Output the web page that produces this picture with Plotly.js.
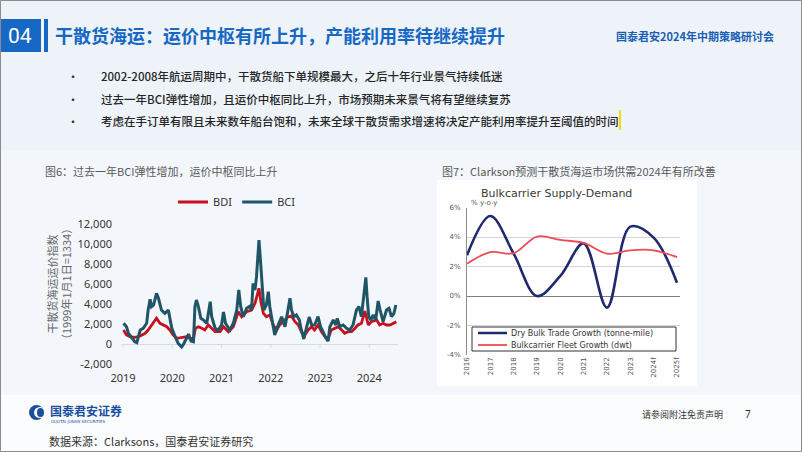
<!DOCTYPE html>
<html><head><meta charset="utf-8">
<script src="https://cdn.plot.ly/plotly-3.0.1.min.js"></script>
<style>html,body{margin:0;padding:0;background:#f2f6fa}#chart{width:802px;height:452px}</style>
</head><body><div id="chart"></div>
<script>
// ---------- Left chart data (BDI / BCI) ----------
const bciDates = [2019.01,2019.07,2019.11,2019.18,2019.24,2019.28,2019.31,2019.35,2019.41,2019.48,2019.51,2019.55,2019.58,2019.62,2019.68,2019.72,2019.78,2019.85,2019.92,2019.95,2019.99,2020.06,2020.12,2020.19,2020.22,2020.29,2020.33,2020.38,2020.43,2020.46,2020.49,2020.53,2020.58,2020.63,2020.70,2020.77,2020.80,2020.87,2020.93,2021.00,2021.04,2021.08,2021.17,2021.24,2021.31,2021.35,2021.39,2021.44,2021.51,2021.58,2021.61,2021.64,2021.68,2021.71,2021.74,2021.76,2021.79,2021.83,2021.86,2021.91,2021.95,2021.98,2022.02,2022.08,2022.15,2022.22,2022.29,2022.35,2022.39,2022.42,2022.47,2022.52,2022.58,2022.62,2022.67,2022.73,2022.78,2022.83,2022.89,2022.96,2023.01,2023.06,2023.12,2023.165,2023.20,2023.27,2023.32,2023.35,2023.40,2023.47,2023.54,2023.60,2023.67,2023.74,2023.79,2023.84,2023.89,2023.93,2023.96,2023.99,2024.03,2024.08,2024.13,2024.18,2024.22,2024.28,2024.35,2024.40,2024.45,2024.50,2024.54];
const bciValues = [2070,1730,1070,570,230,130,730,1400,1570,2070,3400,4470,3730,3900,5070,4570,3400,3070,3400,2400,1570,730,70,-300,-100,570,1000,300,230,3730,4400,3730,2570,2400,2070,4230,2730,1570,1400,1900,3200,2070,1400,2070,3400,5400,3730,2730,3570,3800,3400,6070,5400,6730,9000,10400,8400,5730,3400,3900,5230,3730,2400,900,1900,2730,1730,3570,4570,3400,2730,2900,2400,1400,500,1730,2700,1900,1900,2730,1730,1230,570,300,1730,2400,1900,2570,1730,1900,1570,1400,1900,3400,3730,2730,4730,6670,4400,2730,2400,2900,2400,4300,3400,2230,3400,3570,2730,3070,3900];
const bdiDates = [2019.01,2019.07,2019.14,2019.24,2019.35,2019.45,2019.51,2019.58,2019.65,2019.68,2019.75,2019.82,2019.89,2019.95,2020.02,2020.09,2020.19,2020.29,2020.36,2020.43,2020.47,2020.53,2020.60,2020.66,2020.73,2020.80,2020.87,2020.97,2021.04,2021.14,2021.24,2021.34,2021.41,2021.51,2021.61,2021.68,2021.76,2021.80,2021.85,2021.91,2021.98,2022.05,2022.12,2022.18,2022.25,2022.35,2022.42,2022.49,2022.56,2022.62,2022.69,2022.76,2022.83,2022.89,2022.96,2023.03,2023.10,2023.165,2023.23,2023.30,2023.37,2023.44,2023.50,2023.57,2023.64,2023.71,2023.77,2023.84,2023.91,2023.98,2024.04,2024.15,2024.21,2024.28,2024.35,2024.42,2024.48,2024.55];
const bdiValues = [1400,900,730,670,800,1070,1400,1900,2400,2570,2070,1900,1730,1400,900,570,670,730,570,570,1570,1730,1570,1400,1900,1570,1230,1230,1730,1230,1730,3230,2730,3230,3400,4070,5570,4200,3070,2730,2900,1900,1400,1900,2230,2700,2800,2230,1900,1230,900,1400,1730,1400,1900,1230,730,570,1400,1570,1730,1400,1070,1230,1230,1570,1900,2070,3300,1900,2230,2400,1900,2070,1900,1900,2070,2230];
const leftXTickVals = [2019,2020,2021,2022,2023,2024];
const leftXTickText = ['2019','2020','2021','2022','2023','2024'];
const leftYTickVals = [-2000,0,2000,4000,6000,8000,10000,12000];
const leftYTickText = ['-2,000','0','2,000','4,000','6,000','8,000','10,000','12,000'];

// ---------- Right chart data (Clarkson supply-demand) ----------
const years = ['2016','2017','2018','2019','2020','2021','2022','2023','2024f','2025f'];
const tradeGrowth = [2.76,5.42,2.87,0.0,1.36,3.57,-0.79,4.70,3.96,0.90];
const fleetGrowth = [2.19,2.98,2.90,4.03,3.80,3.60,2.87,3.10,3.10,2.64];
const rightYTickVals = [-4,-2,0,2,4,6];
const rightYTickText = ['-4%','-2%','0%','2%','4%','6%'];

// ---------- helpers: page pixels -> paper coords ----------
const W = 802, H = 452;
const X = px => px / W;
const Y = py => 1 - py / H;
const CJK = '"Noto Sans CJK SC", "Noto Sans", sans-serif';

function rect(x0, y0, x1, y1, fill, line, layer) {
  return {type:'rect', xref:'paper', yref:'paper', x0:X(x0), x1:X(x1), y0:Y(y1), y1:Y(y0),
    fillcolor: fill || 'rgba(0,0,0,0)', line: line || {width:0}, layer: layer || 'below'};
}
function seg(x0, y0, x1, y1, color, width) {
  return {type:'line', xref:'paper', yref:'paper', x0:X(x0), x1:X(x1), y0:Y(y0), y1:Y(y1),
    line:{color:color, width:width}, layer:'above'};
}
function txt(text, x, y, opts) {
  const o = opts || {};
  return Object.assign({text:text, xref:'paper', yref:'paper', x:X(x), y:Y(y), showarrow:false,
    xanchor:o.xanchor || 'left', yanchor:o.yanchor || 'middle',
    font:{family:o.family || CJK, size:o.size || 12, color:o.color || '#333', weight:o.weight || 400}},
    o.extra || {});
}

const shapes = [
  rect(0, 0, 802, 150, '#edf3f9'),
  rect(0, 150, 802, 395, '#f3f7fb'),
  rect(0, 395, 802, 452, '#fbfcfd'),
  rect(0, 19, 41, 52, '#1668c4'),
  rect(44, 19, 48, 52, '#1668c4'),
  rect(437, 180, 697, 386, '#ffffff'),
  // right chart legend box & samples
  rect(472, 327, 676, 351, '#ffffff', {color:'#333', width:1}, 'above'),
  seg(478, 333, 507, 333, '#1f2a6e', 2.5),
  seg(478, 345, 507, 345, '#ef4a55', 1.8),
  // yellow cursor
  rect(619, 110, 621, 130, '#ffd700', null, 'above'),
  // logo
  {type:'circle', xref:'paper', yref:'paper', x0:X(29), x1:X(44), y0:Y(420), y1:Y(405), fillcolor:'#1a4fa0', line:{width:0}, layer:'above'},
  {type:'circle', xref:'paper', yref:'paper', x0:X(34), x1:X(46), y0:Y(418), y1:Y(407), fillcolor:'#fbfcfd', line:{width:0}, layer:'above'},
  {type:'circle', xref:'paper', yref:'paper', x0:X(37), x1:X(44), y0:Y(417), y1:Y(408), fillcolor:'#1a4fa0', line:{width:0}, layer:'above'},
  // frame
  rect(0.5, 0.5, 801.5, 451.5, null, {color:'#8c8c8c', width:1}, 'above')
];
// year tick marks on the left chart zero line
leftXTickVals.forEach(v => shapes.push({type:'line', xref:'x', yref:'y', x0:v, x1:v, y0:0, y1:-400,
  line:{color:'#d9d9d9', width:1}, layer:'below'}));

const bullets = [
  '2002-2008年航运周期中，干散货船下单规模最大，之后十年行业景气持续低迷',
  '过去一年BCI弹性增加，且运价中枢同比上升，市场预期未来景气将有望继续复苏',
  '考虑在手订单有限且未来数年船台饱和，未来全球干散货需求增速将决定产能利用率提升至阈值的时间'
];
const bulletY = [76, 99, 121];

const annotations = [
  txt('04', 20, 36, {xanchor:'center', family:'Roboto, sans-serif', size:21, color:'#ffffff'}),
  txt('干散货海运：运价中枢有所上升，产能利用率待继续提升', 53, 35, {size:18, color:'#1668c4', weight:700}),
  txt('国泰君安2024年中期策略研讨会', 776, 36, {xanchor:'right', size:11, color:'#1a5fb4', weight:700}),
  txt('图6：过去一年BCI弹性增加，运价中枢同比上升', 43, 171, {size:11, color:'#595959'}),
  txt('图7：Clarkson预测干散货海运市场供需2024年有所改善', 440, 171, {size:11, color:'#595959'}),
  txt('干散货海运运价指数<br>（1999年1月1日=1334）', 59, 284, {xanchor:'center', size:11, color:'#666', extra:{textangle:-90}}),
  txt('Bulkcarrier Supply-Demand', 556, 193, {xanchor:'center', family:'"DejaVu Sans", sans-serif', size:11, color:'#3a3a3a'}),
  txt('% y-o-y', 469, 203, {family:'"DejaVu Sans", sans-serif', size:7, color:'#555'}),
  txt('Dry Bulk Trade Growth (tonne-mile)', 509, 333, {family:'"DejaVu Sans", sans-serif', size:8, color:'#333'}),
  txt('Bulkcarrier Fleet Growth (dwt)', 509, 345, {family:'"DejaVu Sans", sans-serif', size:8, color:'#333'}),
  txt('国泰君安证券', 48, 410, {size:12, color:'#1a4fa0', weight:700}),
  txt('GUOTAI JUNAN SECURITIES', 49, 421, {family:'"DejaVu Sans", sans-serif', size:4, color:'#1a4fa0'}),
  txt('请参阅附注免责声明', 640, 414, {size:9, color:'#333'}),
  txt('7', 748, 414, {xanchor:'center', family:'"Noto Sans", sans-serif', size:10, color:'#333'}),
  txt('数据来源：Clarksons，国泰君安证券研究', 47, 441, {size:11, color:'#333'})
];
bullets.forEach((b, i) => {
  annotations.push(txt('•', 73, bulletY[i], {xanchor:'center', size:12, color:'#333'}));
  annotations.push(txt(b, 99, bulletY[i], {size:11.5, color:'#262626', weight:500}));
});

const traces = [
  {x:bdiDates, y:bdiValues, name:'BDI', type:'scatter', mode:'lines', xaxis:'x', yaxis:'y',
   line:{color:'#c8101e', width:2.8}},
  {x:bciDates, y:bciValues, name:'BCI', type:'scatter', mode:'lines', xaxis:'x', yaxis:'y',
   line:{color:'#1f5566', width:3}},
  {x:years, y:tradeGrowth, name:'Dry Bulk Trade Growth (tonne-mile)', type:'scatter', mode:'lines',
   xaxis:'x2', yaxis:'y2', showlegend:false, line:{color:'#1f2a6e', width:2.6, shape:'spline', smoothing:1}},
  {x:years, y:fleetGrowth, name:'Bulkcarrier Fleet Growth (dwt)', type:'scatter', mode:'lines',
   xaxis:'x2', yaxis:'y2', showlegend:false, line:{color:'#ef4a55', width:1.8, shape:'spline', smoothing:1}}
];

const layout = {
  width:W, height:H, margin:{l:0, r:0, t:0, b:0},
  paper_bgcolor:'#f2f6fa', plot_bgcolor:'rgba(0,0,0,0)',
  showlegend:true,
  legend:{orientation:'h', x:X(173), xanchor:'left', y:Y(202), yanchor:'middle', bgcolor:'rgba(0,0,0,0)',
    font:{family:'"Noto Sans", sans-serif', size:11, color:'#333'}, itemwidth:30},
  xaxis:{domain:[X(121), X(398)], range:[2018.959, 2024.583], tickvals:leftXTickVals, ticktext:leftXTickText,
    showgrid:false, zeroline:false, showline:false, ticks:'', ticklabelstandoff:6,
    tickfont:{family:'"Noto Sans", sans-serif', size:11, color:'#333'}, fixedrange:true},
  yaxis:{domain:[Y(364), Y(224)], range:[-2000, 12000], tickvals:leftYTickVals, ticktext:leftYTickText,
    showgrid:false, zeroline:true, zerolinecolor:'#d9d9d9', zerolinewidth:1, showline:false, ticks:'',
    ticklabelstandoff:8, tickfont:{family:'"Noto Sans", sans-serif', size:11, color:'#333'}},
  xaxis2:{domain:[X(467), X(680)], range:[0, 9.13], anchor:'y2', type:'category',
    showgrid:false, zeroline:false, showline:false, ticks:'', tickangle:-90,
    tickfont:{family:'"DejaVu Sans", sans-serif', size:7, color:'#555'}},
  yaxis2:{domain:[Y(355), Y(207.5)], range:[-4, 6], anchor:'x2', tickvals:rightYTickVals, ticktext:rightYTickText,
    showgrid:true, gridcolor:'#d4d4d4', gridwidth:1, zeroline:true, zerolinecolor:'#7f7f7f', zerolinewidth:1,
    showline:true, linecolor:'#8c8c8c', linewidth:1, ticks:'', ticklabelstandoff:4,
    tickfont:{family:'"DejaVu Sans", sans-serif', size:7, color:'#555'}},
  shapes:shapes, annotations:annotations
};

Plotly.newPlot('chart', traces, layout, {staticPlot:true, displayModeBar:false});
</script></body></html>
